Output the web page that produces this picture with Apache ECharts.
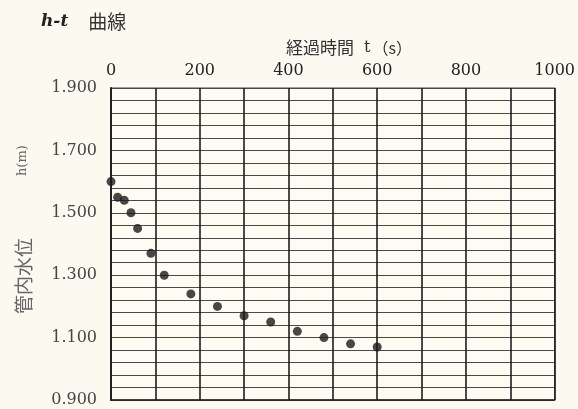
<!DOCTYPE html>
<html>
<head>
<meta charset="utf-8">
<script src="https://cdn.jsdelivr.net/npm/echarts@6/dist/echarts.min.js"></script>
<style>
html,body{margin:0;padding:0;background:#fcfaf0;}
#c{width:578px;height:409px;}
</style>
</head>
<body>
<div id="c"></div>
<script>
const times = [0, 15, 30, 45, 60, 90, 120, 180, 240, 300, 360, 420, 480, 540, 600];
const heads = [1.60, 1.55, 1.54, 1.50, 1.45, 1.37, 1.30, 1.24, 1.20, 1.17, 1.15, 1.12, 1.10, 1.08, 1.07];
const xTickLabels = ['0', '200', '400', '600', '800', '1000'];
const yTickLabels = ['0.900', '1.100', '1.300', '1.500', '1.700', '1.900'];

const serif = '"DejaVu Serif", "Liberation Serif", serif';
const cjk = '"Noto Sans CJK JP", sans-serif';

const chart = echarts.init(document.getElementById('c'));
chart.setOption({
  backgroundColor: '#fcfaf0',
  animation: false,
  title: [
    {
      text: '{a|h-t}{b|曲線}',
      left: 36, top: 7,
      textStyle: {
        fontWeight: 'normal',
        rich: {
          a: {fontFamily: serif, fontStyle: 'italic', fontWeight: 'bold', fontSize: 17, color: '#222', padding: [0, 20, 0, 0]},
          b: {fontFamily: cjk, fontWeight: 'normal', fontSize: 19, color: '#333'}
        }
      }
    },
    {
      text: '{a|経過時間}{b|t}{c|（s）}',
      left: 281, top: 34,
      textStyle: {
        fontWeight: 'normal',
        rich: {
          a: {fontFamily: cjk, fontWeight: 'normal', fontSize: 17, color: '#333', padding: [0, 10, 0, 0]},
          b: {fontFamily: serif, fontWeight: 'normal', fontSize: 16, color: '#333', padding: [0, 2, 0, 0]},
          c: {fontFamily: cjk, fontWeight: 'normal', fontSize: 16, color: '#333'}
        }
      }
    }
  ],
  graphic: [
    {type: 'text', x: 14, y: 314, rotation: Math.PI / 2,
     style: {text: '管内水位', font: '19px "Noto Sans CJK JP"', fill: '#666'}},
    {type: 'text', x: 16, y: 176, rotation: Math.PI / 2,
     style: {text: 'h(m)', font: '13px "DejaVu Serif"', fill: '#666'}}
  ],
  grid: {left: 111, top: 88, width: 445, height: 312, show: true, borderColor: '#444', borderWidth: 1.2, backgroundColor: '#fdfbf2'},
  xAxis: [{
    type: 'value', position: 'top', min: 0, max: 1000, interval: 100,
    axisLine: {show: true, lineStyle: {color: '#222', width: 1.5}},
    axisTick: {show: false},
    axisLabel: {
      margin: 9, fontFamily: serif, fontSize: 16, color: '#222',
      formatter: v => (Math.round(v) % 200 === 0) ? xTickLabels[Math.round(v) / 200] : ''
    },
    splitLine: {show: true, lineStyle: {color: '#1e1e1e', width: 1.6}}
  }],
  yAxis: [
    {
      type: 'value', min: 0.9, max: 1.9, interval: 0.1,
      axisLine: {show: true, lineStyle: {color: '#222', width: 2}},
      axisTick: {show: false},
      axisLabel: {
        margin: 14, fontFamily: serif, fontSize: 16, color: '#444',
        formatter: v => {
          const k = Math.round((v - 0.9) * 10);
          return k % 2 === 0 ? yTickLabels[k / 2] : '';
        }
      },
      splitLine: {show: false}
    },
    {
      type: 'value', min: 0, max: 25, interval: 1, position: 'left',
      axisLine: {show: false}, axisTick: {show: false}, axisLabel: {show: false},
      splitLine: {show: true, lineStyle: {color: '#4a4a4a', width: 1.2}}
    }
  ],
  series: [{
    type: 'scatter',
    yAxisIndex: 0,
    data: times.map((t, i) => [t, heads[i]]),
    symbolSize: 9,
    itemStyle: {color: '#1a1a1a'},
    z: 5
  }]
});
</script>
</body>
</html>
